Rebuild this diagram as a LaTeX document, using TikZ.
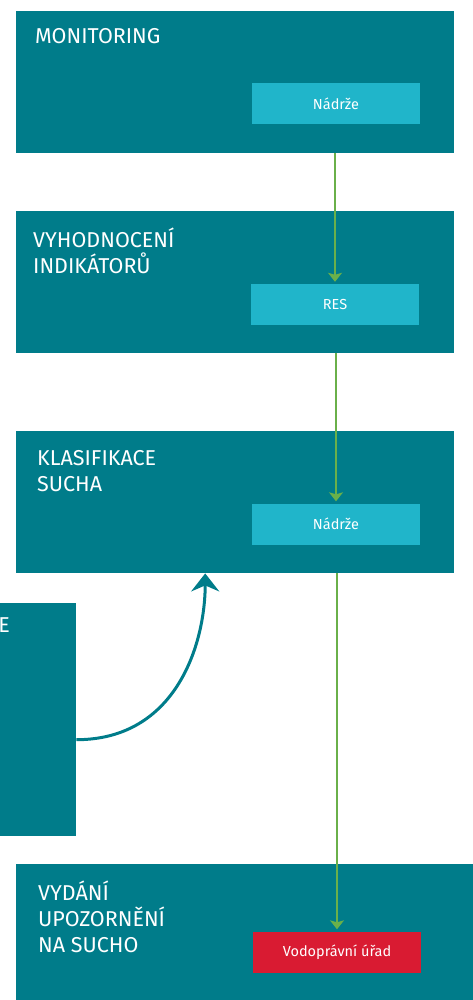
\documentclass[tikz,border=0pt]{standalone}
\usepackage{fontspec}
\setmainfont{Fira Sans}
\usetikzlibrary{arrows.meta}
\definecolor{petrol}{HTML}{007C8A}
\definecolor{lagoon}{HTML}{20B5CA}
\definecolor{alarm}{HTML}{D91B32}
\definecolor{leaf}{HTML}{6AB04A}
\begin{document}
\begin{tikzpicture}[x=1pt,y=-1pt,
	stage/.style={fill=petrol,anchor=north west,minimum width=438pt,minimum height=142pt,inner sep=0pt},
	title/.style={anchor=base west,inner sep=0pt,align=left,text=white,font=\fontsize{21.5}{26}\selectfont},
	tag/.style={fill=lagoon,text=white,minimum width=168pt,minimum height=41pt,inner sep=0pt,font=\fontsize{14.5}{17}\selectfont},
	flow/.style={draw=leaf,line width=1.3pt,shorten >=2pt,-{Stealth[length=9pt,width=14pt,inset=2pt]}},
	back/.style={draw=petrol,line width=3pt,-{Stealth[length=18pt,width=28pt,inset=6pt]}}]
	\useasboundingbox (0,0) rectangle (473,1000);

	% stage 1
	\node[stage] (stage1) at (16,11) {};
	\node[title] (title1) at (35,44) {MONITORING};
	\node[tag] (tank1) at (336,103.5) {Nádrže};

	% stage 2 (base = last line)
	\node[stage] (stage2) at (16,211) {};
	\node[title] (title2) at (33,273) {VYHODNOCENÍ\\INDIKÁTORŮ};
	\node[tag] (res) at (335,304.5) {RES};

	% stage 3
	\node[stage] (stage3) at (16,431) {};
	\node[title] (title3) at (37,491) {KLASIFIKACE\\SUCHA};
	\node[tag] (tank2) at (336,524) {Nádrže};

	\node[stage,minimum width=76pt,minimum height=233pt] (side) at (0,603) {};
	\node[title,anchor=base east] (sidetext) at (10,632) {E};

	% stage 4
	\node[stage,minimum width=457pt,minimum height=136pt] (stage4) at (16,864) {};
	\node[title] (title4) at (38,952) {VYDÁNÍ\\UPOZORNĚNÍ\\NA SUCHO};
	\node[tag,fill=alarm] (office) at (337,952) {Vodoprávní úřad};

	\draw[flow] (stage1.south -| res.north) -- (res.north);
	\draw[flow] (stage2.south -| tank2.north) -- (tank2.north);
	\draw[flow] (stage3.south -| office.north) -- (office.north);

	\draw[back] ([yshift=-20pt]side.east) .. controls +(100,0) and +(0,70) .. ([xshift=-30pt]stage3.south);
\end{tikzpicture}
\end{document}
